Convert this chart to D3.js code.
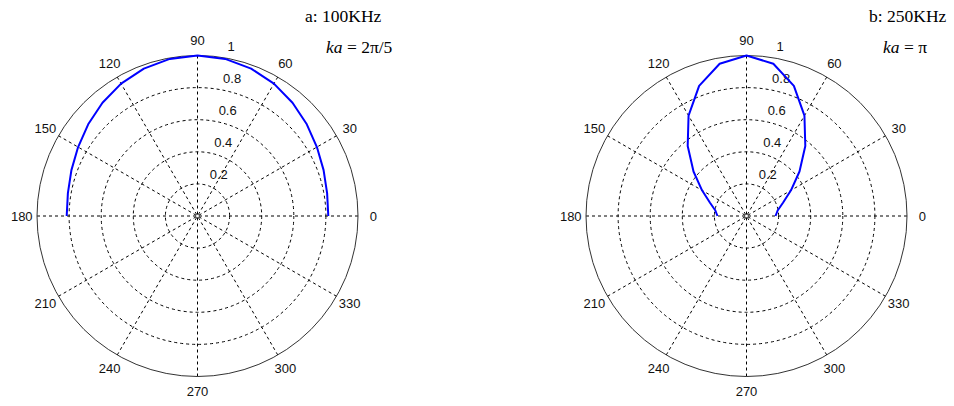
<!DOCTYPE html>
<html>
<head>
<meta charset="utf-8">
<script src="https://cdn.jsdelivr.net/npm/d3@7"></script>
<style>
  html, body { margin: 0; padding: 0; background: #fff; }
  svg { display: block; }
  .tick-label { font-family: "Liberation Sans", Arial, sans-serif; font-size: 13px; fill: #111; }
  .title { font-family: "Liberation Serif", "Times New Roman", serif; font-size: 17.5px; fill: #000; }
</style>
</head>
<body>
<svg id="chart" width="954" height="406"></svg>
<script>
// Polar angles (degrees) at which the directivity is sampled
const curveAngles = [0, 10, 20, 30, 40, 50, 60, 70, 80, 90, 100, 110, 120, 130, 140, 150, 160, 170, 180];

// Normalised directivity, 100 KHz (ka = 2π/5)
const amp100 = [0.815, 0.820, 0.836, 0.859, 0.889, 0.921, 0.952, 0.977, 0.994, 1.0,
                0.994, 0.977, 0.952, 0.921, 0.889, 0.859, 0.836, 0.820, 0.815];

// Normalised directivity, 250 KHz (ka = π)
const amp250 = [0.181, 0.197, 0.242, 0.320, 0.431, 0.570, 0.722, 0.863, 0.963, 1.0,
                0.963, 0.863, 0.722, 0.570, 0.431, 0.320, 0.242, 0.197, 0.181];

// Grid ticks
const angleTicks = [0, 30, 60, 90, 120, 150, 180, 210, 240, 270, 300, 330];
const spokeAngles = [0, 30, 60, 90, 120, 150];
const ringTicks = [0.2, 0.4, 0.6, 0.8];
const ringLabels = ["0.2", "0.4", "0.6", "0.8", "1"];
const ringLabelValues = [0.2, 0.4, 0.6, 0.8, 1];

// Panel headings
const panelTitles = ["a: 100KHz", "b: 250KHz"];
const panelKa = ["2π/5", "π"];

const panels = [
  { cx: 197.5, cy: 216, values: amp100, title: panelTitles[0], ka: panelKa[0], tx: 305, kx: 326 },
  { cx: 746.5, cy: 216, values: amp250, title: panelTitles[1], ka: panelKa[1], tx: 869, kx: 883 }
];

const R = 160.5;
const rScale = d3.scaleLinear().domain([0, 1]).range([0, R]);
const rad = d => d * Math.PI / 180;

const svg = d3.select("#chart");

panels.forEach(p => {
  const g = svg.append("g").attr("transform", `translate(${p.cx},${p.cy})`);

  // Plot area background
  g.append("circle").attr("r", rScale(1)).attr("fill", "#fff");

  // Dashed range rings
  g.selectAll("circle.ring").data(ringTicks).join("circle")
    .attr("class", "ring")
    .attr("r", d => rScale(d))
    .attr("fill", "none")
    .attr("stroke", "#000")
    .attr("stroke-width", 1)
    .attr("stroke-dasharray", "3,3");

  // Dashed spokes through the centre
  g.selectAll("line.spoke").data(spokeAngles).join("line")
    .attr("class", "spoke")
    .attr("x1", d => -rScale(1) * Math.cos(rad(d)))
    .attr("y1", d => rScale(1) * Math.sin(rad(d)))
    .attr("x2", d => rScale(1) * Math.cos(rad(d)))
    .attr("y2", d => -rScale(1) * Math.sin(rad(d)))
    .attr("stroke", "#000")
    .attr("stroke-width", 1)
    .attr("stroke-dasharray", "3,3");

  // Solid outer boundary
  g.append("circle")
    .attr("r", rScale(1))
    .attr("fill", "none")
    .attr("stroke", "#333")
    .attr("stroke-width", 1);

  // Angle labels
  g.selectAll("text.ang").data(angleTicks).join("text")
    .attr("class", "tick-label ang")
    .attr("x", d => rScale(1.095) * Math.cos(rad(d)))
    .attr("y", d => -rScale(1.095) * Math.sin(rad(d)))
    .attr("text-anchor", "middle")
    .attr("dominant-baseline", "central")
    .text(d => d);

  // Ring value labels along the 82° ray
  g.selectAll("text.rl").data(ringLabelValues).join("text")
    .attr("class", "tick-label rl")
    .attr("x", d => rScale(d + 0.01) * Math.cos(rad(82)) + 7.5)
    .attr("y", d => -rScale(d + 0.01) * Math.sin(rad(82)) - 4)
    .text((d, i) => ringLabels[i]);

  // Directivity curve
  const line = d3.lineRadial()
    .angle((d, i) => Math.PI / 2 - rad(curveAngles[i]))
    .radius(d => rScale(d));
  g.append("path")
    .datum(p.values)
    .attr("d", line)
    .attr("fill", "none")
    .attr("stroke", "#0000ff")
    .attr("stroke-width", 2)
    .attr("stroke-linejoin", "round");

  // Headings
  svg.append("text").attr("class", "title")
    .attr("x", p.tx).attr("y", 22)
    .text(p.title);
  const t2 = svg.append("text").attr("class", "title")
    .attr("x", p.kx).attr("y", 53);
  t2.append("tspan").attr("font-style", "italic").text("ka");
  t2.append("tspan").text(" = " + p.ka);
});
</script>
</body>
</html>
